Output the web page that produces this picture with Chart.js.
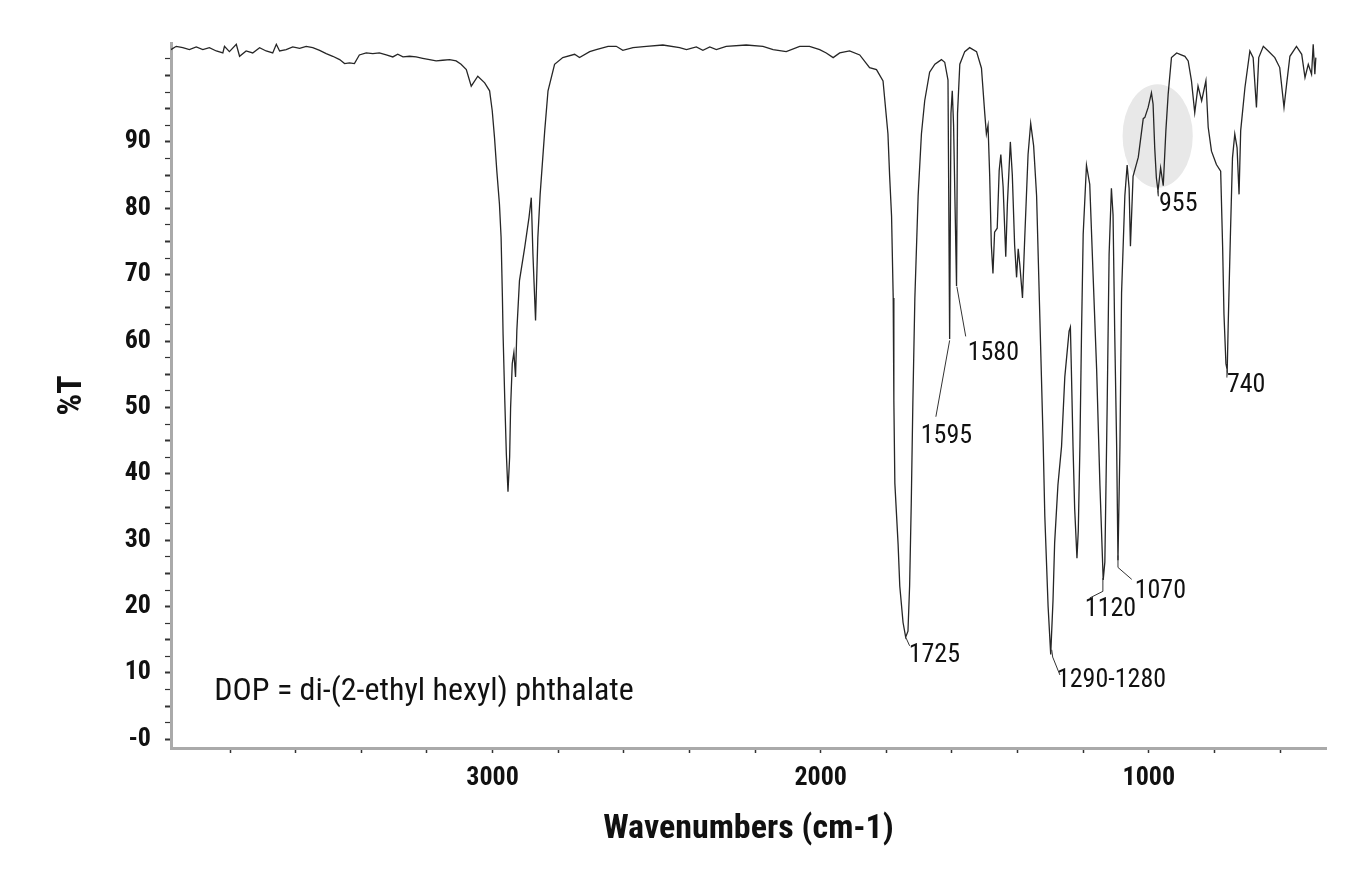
<!DOCTYPE html>
<html>
<head>
<meta charset="utf-8">
<script src="https://cdn.jsdelivr.net/npm/chart.js@4.4.1/dist/chart.umd.min.js"></script>
<style>
  html, body { margin: 0; padding: 0; background: #fff; }
  #wrap { width: 1361px; height: 884px; position: relative; }
</style>
</head>
<body>
<div id="wrap"><canvas id="ir-chart"></canvas></div>
<script>
// spectrum: wavenumber (cm-1) and %T
const wavenumbers = [
  3980, 3964, 3944, 3924, 3903, 3883, 3863, 3842, 3822, 3817, 3802, 3781, 3771, 3751, 3731, 3710,
  3690, 3670, 3659, 3649, 3629, 3609, 3588, 3568, 3548, 3527, 3507, 3487, 3466, 3451, 3436, 3421,
  3406, 3385, 3365, 3345, 3324, 3304, 3289, 3273, 3253, 3233, 3213, 3192, 3172, 3152, 3131, 3111,
  3096, 3080, 3065, 3045, 3024, 3009, 3001, 2994, 2987, 2979, 2974, 2970, 2968, 2963, 2958, 2953,
  2948, 2945, 2940, 2935, 2930, 2926, 2918, 2902, 2889, 2882, 2877, 2869, 2862, 2855, 2841, 2831,
  2811, 2786, 2750, 2735, 2704, 2684, 2648, 2623, 2603, 2572, 2531, 2481, 2430, 2409, 2379, 2359,
  2338, 2318, 2288, 2227, 2176, 2145, 2105, 2064, 2034, 2003, 1983, 1962, 1942, 1912, 1881, 1851,
  1830, 1810, 1795, 1790, 1784, 1779, 1777, 1774, 1764, 1759, 1749, 1741, 1734, 1729, 1724, 1719,
  1713, 1703, 1693, 1683, 1668, 1652, 1632, 1622, 1612, 1607, 1603, 1599, 1595, 1586, 1583, 1576,
  1561, 1546, 1525, 1510, 1500, 1495, 1490, 1485, 1480, 1475, 1470, 1462, 1456, 1451, 1444, 1436,
  1431, 1422, 1416, 1409, 1403, 1398, 1393, 1385, 1378, 1368, 1360, 1351, 1342, 1332, 1322, 1317,
  1307, 1299, 1292, 1287, 1277, 1266, 1256, 1243, 1239, 1236, 1231, 1226, 1219, 1215, 1210, 1205,
  1200, 1190, 1180, 1170, 1159, 1149, 1139, 1134, 1127, 1121, 1114, 1109, 1104, 1098, 1094, 1088,
  1083, 1073, 1066, 1060, 1056, 1048, 1032, 1017, 1012, 1002, 992, 987, 982, 977, 972, 964,
  956, 948, 941, 931, 915, 905, 890, 880, 870, 860, 850, 839, 826, 819, 809, 794,
  781, 775, 771, 765, 761, 758, 751, 745, 738, 731, 725, 720, 707, 692, 682, 672,
  665, 651, 636, 616, 601, 588, 580, 570, 550, 534, 524, 514, 504, 499, 494, 491
];
const transmittance = [
  103.9, 104.4, 104.2, 103.9, 104.3, 103.9, 104.2, 103.7, 103.4, 104.4, 103.6, 104.7, 102.9, 103.7, 103.4, 104.2,
  103.7, 103.4, 104.7, 103.7, 103.9, 104.3, 104.1, 104.4, 104.2, 103.8, 103.3, 102.9, 102.4, 101.8, 101.9, 101.8,
  103.1, 103.4, 103.3, 103.4, 103.1, 102.8, 103.2, 102.8, 102.9, 102.8, 102.6, 102.4, 102.2, 102.3, 102.4, 102.2,
  101.7, 100.9, 98.4, 99.9, 98.9, 97.7, 94.7, 90.6, 85.6, 80.6, 75.6, 66.6, 61.1, 51.5, 43.0, 37.3,
  42.5, 50.0, 56.6, 58.3, 54.6, 61.6, 69.1, 74.1, 78.6, 81.6, 73.1, 63.1, 75.6, 82.1, 91.7, 97.7,
  101.7, 102.7, 103.2, 102.7, 103.6, 103.9, 104.4, 104.4, 103.8, 104.2, 104.4, 104.6, 104.2, 103.9, 104.3, 103.8,
  104.3, 103.9, 104.4, 104.6, 104.4, 103.9, 103.6, 104.4, 104.4, 103.9, 103.4, 102.7, 103.4, 103.7, 103.1, 101.2,
  100.9, 99.2, 91.2, 85.0, 78.8, 66.5, 51.0, 38.6, 29.3, 23.1, 17.6, 15.4, 16.3, 23.1, 35.5, 51.0,
  66.5, 81.9, 91.2, 96.2, 100.5, 101.7, 102.4, 102.0, 99.3, 60.3, 94.3, 97.7, 92.5, 68.3, 94.3, 101.7,
  103.6, 104.2, 103.6, 101.1, 94.3, 91.2, 92.5, 85.0, 74.5, 70.2, 76.4, 77.0, 85.7, 88.1, 83.2, 72.7,
  80.7, 90.0, 85.0, 74.5, 69.6, 73.9, 71.4, 66.5, 75.7, 88.1, 92.8, 89.4, 81.9, 63.4, 44.8, 33.7,
  20.1, 12.8, 20.9, 29.6, 38.3, 44.1, 54.6, 61.5, 62.1, 55.7, 44.1, 34.8, 27.3, 31.4, 44.1, 61.5,
  76.1, 86.5, 83.6, 70.2, 55.7, 38.3, 24.0, 26.7, 49.9, 73.1, 83.0, 79.0, 61.5, 44.1, 27.0, 44.1,
  67.3, 81.9, 86.5, 83.0, 74.3, 84.8, 87.7, 93.5, 93.7, 95.2, 97.4, 95.7, 89.1, 84.6, 82.6, 86.1,
  83.4, 91.7, 97.2, 102.7, 103.4, 103.2, 102.9, 102.2, 99.2, 94.4, 98.4, 96.2, 99.2, 92.2, 88.6, 86.6,
  85.6, 74.1, 64.1, 56.6, 55.6, 62.6, 76.6, 87.6, 91.2, 89.1, 82.1, 91.7, 98.2, 103.7, 102.7, 95.2,
  102.7, 104.4, 103.7, 102.7, 101.2, 95.2, 98.7, 102.9, 104.4, 103.2, 99.7, 101.7, 100.2, 104.7, 100.2, 102.7
];

// labelled %T values on the left axis (the ticks above 90 carry no label)
const yLabelMax = 90;

// peak callouts: text, anchor of the text (wavenumber, %T), leader line points
const peakText = ['1725', '1595', '1580', '1290-1280', '1120', '1070', '955', '740'];
const peakTextAt = [[1732, 12.6], [1695, 45.6], [1552, 58.1], [1280, 8.8], [1195, 19.6], [1043, 22.3], [969, 80.5], [762, 53.3]];
const peakLeaders = [
  [[1741, 15.4], [1729, 14.1]],
  [[1607, 60.1], [1649, 48.6]],
  [[1585, 68.2], [1558, 60.7]],
  [[1296, 13.5], [1293, 12.4], [1271, 9.7]],
  [[1140, 24.3], [1140, 22.3], [1180, 21.3]],
  [[1094, 27.7], [1094, 25.9], [1052, 24.1]],
  [[972, 82.6], [971, 81.8]],
  [[762, 55.6], [762, 54.5]]
];
const noteText = 'DOP = di-(2-ethyl hexyl) phthalate';
const noteAt = [3848, 7.1];
// grey highlight around the 955 band: centre and half-widths in data units
const highlight = { x: 973, y: 90.9, rx: 107, ry: 7.8 };

const narrow = '"Liberation Sans Narrow", "Arial Narrow", "Roboto Condensed", Roboto, sans-serif';

const callouts = {
  id: 'callouts',
  beforeDatasetsDraw(chart) {
    const { ctx, scales: { x, y } } = chart;
    const cx = x.getPixelForValue(highlight.x);
    const cy = y.getPixelForValue(highlight.y);
    const rx = Math.abs(x.getPixelForValue(highlight.x + highlight.rx) - cx);
    const ry = Math.abs(y.getPixelForValue(highlight.y + highlight.ry) - cy);
    ctx.save();
    ctx.fillStyle = '#e8e8e8';
    ctx.beginPath();
    ctx.ellipse(cx, cy, rx, ry, 0, 0, Math.PI * 2);
    ctx.fill();
    ctx.restore();
  },
  afterDatasetsDraw(chart) {
    const { ctx, scales: { x, y } } = chart;
    ctx.save();
    ctx.strokeStyle = '#333';
    ctx.lineWidth = 1;
    peakLeaders.forEach(pts => {
      ctx.beginPath();
      pts.forEach((p, i) => {
        const px = x.getPixelForValue(p[0]), py = y.getPixelForValue(p[1]);
        if (i === 0) ctx.moveTo(px, py); else ctx.lineTo(px, py);
      });
      ctx.stroke();
    });
    ctx.fillStyle = '#111';
    ctx.textAlign = 'left';
    ctx.textBaseline = 'middle';
    ctx.font = '26px ' + narrow;
    peakText.forEach((t, i) => {
      ctx.fillText(t, x.getPixelForValue(peakTextAt[i][0]), y.getPixelForValue(peakTextAt[i][1]));
    });
    ctx.font = '32px ' + narrow;
    ctx.fillText(noteText, x.getPixelForValue(noteAt[0]), y.getPixelForValue(noteAt[1]));
    ctx.restore();
  }
};

const ctx = document.getElementById('ir-chart');

new Chart(ctx, {
  type: 'line',
  data: {
    datasets: [{
      data: wavenumbers.map((w, i) => ({ x: w, y: transmittance[i] })),
      borderColor: '#262626',
      borderWidth: 1.3,
      pointRadius: 0,
      tension: 0,
      fill: false
    }]
  },
  options: {
    responsive: true,
    maintainAspectRatio: false,
    animation: false,
    layout: { padding: { top: 43, right: 35, left: 0, bottom: 0 } },
    plugins: { legend: { display: false }, tooltip: { enabled: false } },
    scales: {
      x: {
        type: 'linear',
        reverse: true,
        min: 460,
        max: 3980,
        border: { color: '#aaaaaa', width: 3 },
        grid: { drawOnChartArea: false, tickLength: 5, tickColor: '#333', tickWidth: 1.5 },
        ticks: {
          stepSize: 200,
          autoSkip: false,
          includeBounds: false,
          maxRotation: 0,
          padding: 10,
          color: '#111',
          font: { family: narrow, size: 26, weight: 'bold' },
          callback: v => (v % 1000 === 0 ? String(v) : '')
        },
        title: {
          display: true,
          text: 'Wavenumbers (cm-1)',
          color: '#111',
          font: { family: narrow, size: 34, weight: 'bold' },
          padding: { top: 0, bottom: 34 }
        },
        afterFit: s => { s.height = 136; }
      },
      y: {
        min: -1.3,
        max: 104.9,
        border: { color: '#aaaaaa', width: 3 },
        grid: {
          drawOnChartArea: false,
          tickLength: 6,
          tickColor: '#333',
          tickWidth: c => (c.tick && c.tick.value % 5 === 0 ? 2 : 1.2)
        },
        ticks: {
          stepSize: 2.5,
          autoSkip: false,
          includeBounds: false,
          padding: 14,
          color: '#111',
          font: { family: narrow, size: 26, weight: 'bold' },
          callback: v => (v % 10 === 0 && v <= yLabelMax ? (v === 0 ? '-0' : String(v)) : '')
        },
        title: {
          display: true,
          text: '%T',
          color: '#111',
          font: { family: narrow, size: 34, weight: 'bold' },
          padding: { top: 52, bottom: 0 }
        },
        afterFit: s => { s.width = 171; }
      }
    }
  },
  plugins: [callouts]
});
</script>
</body>
</html>
